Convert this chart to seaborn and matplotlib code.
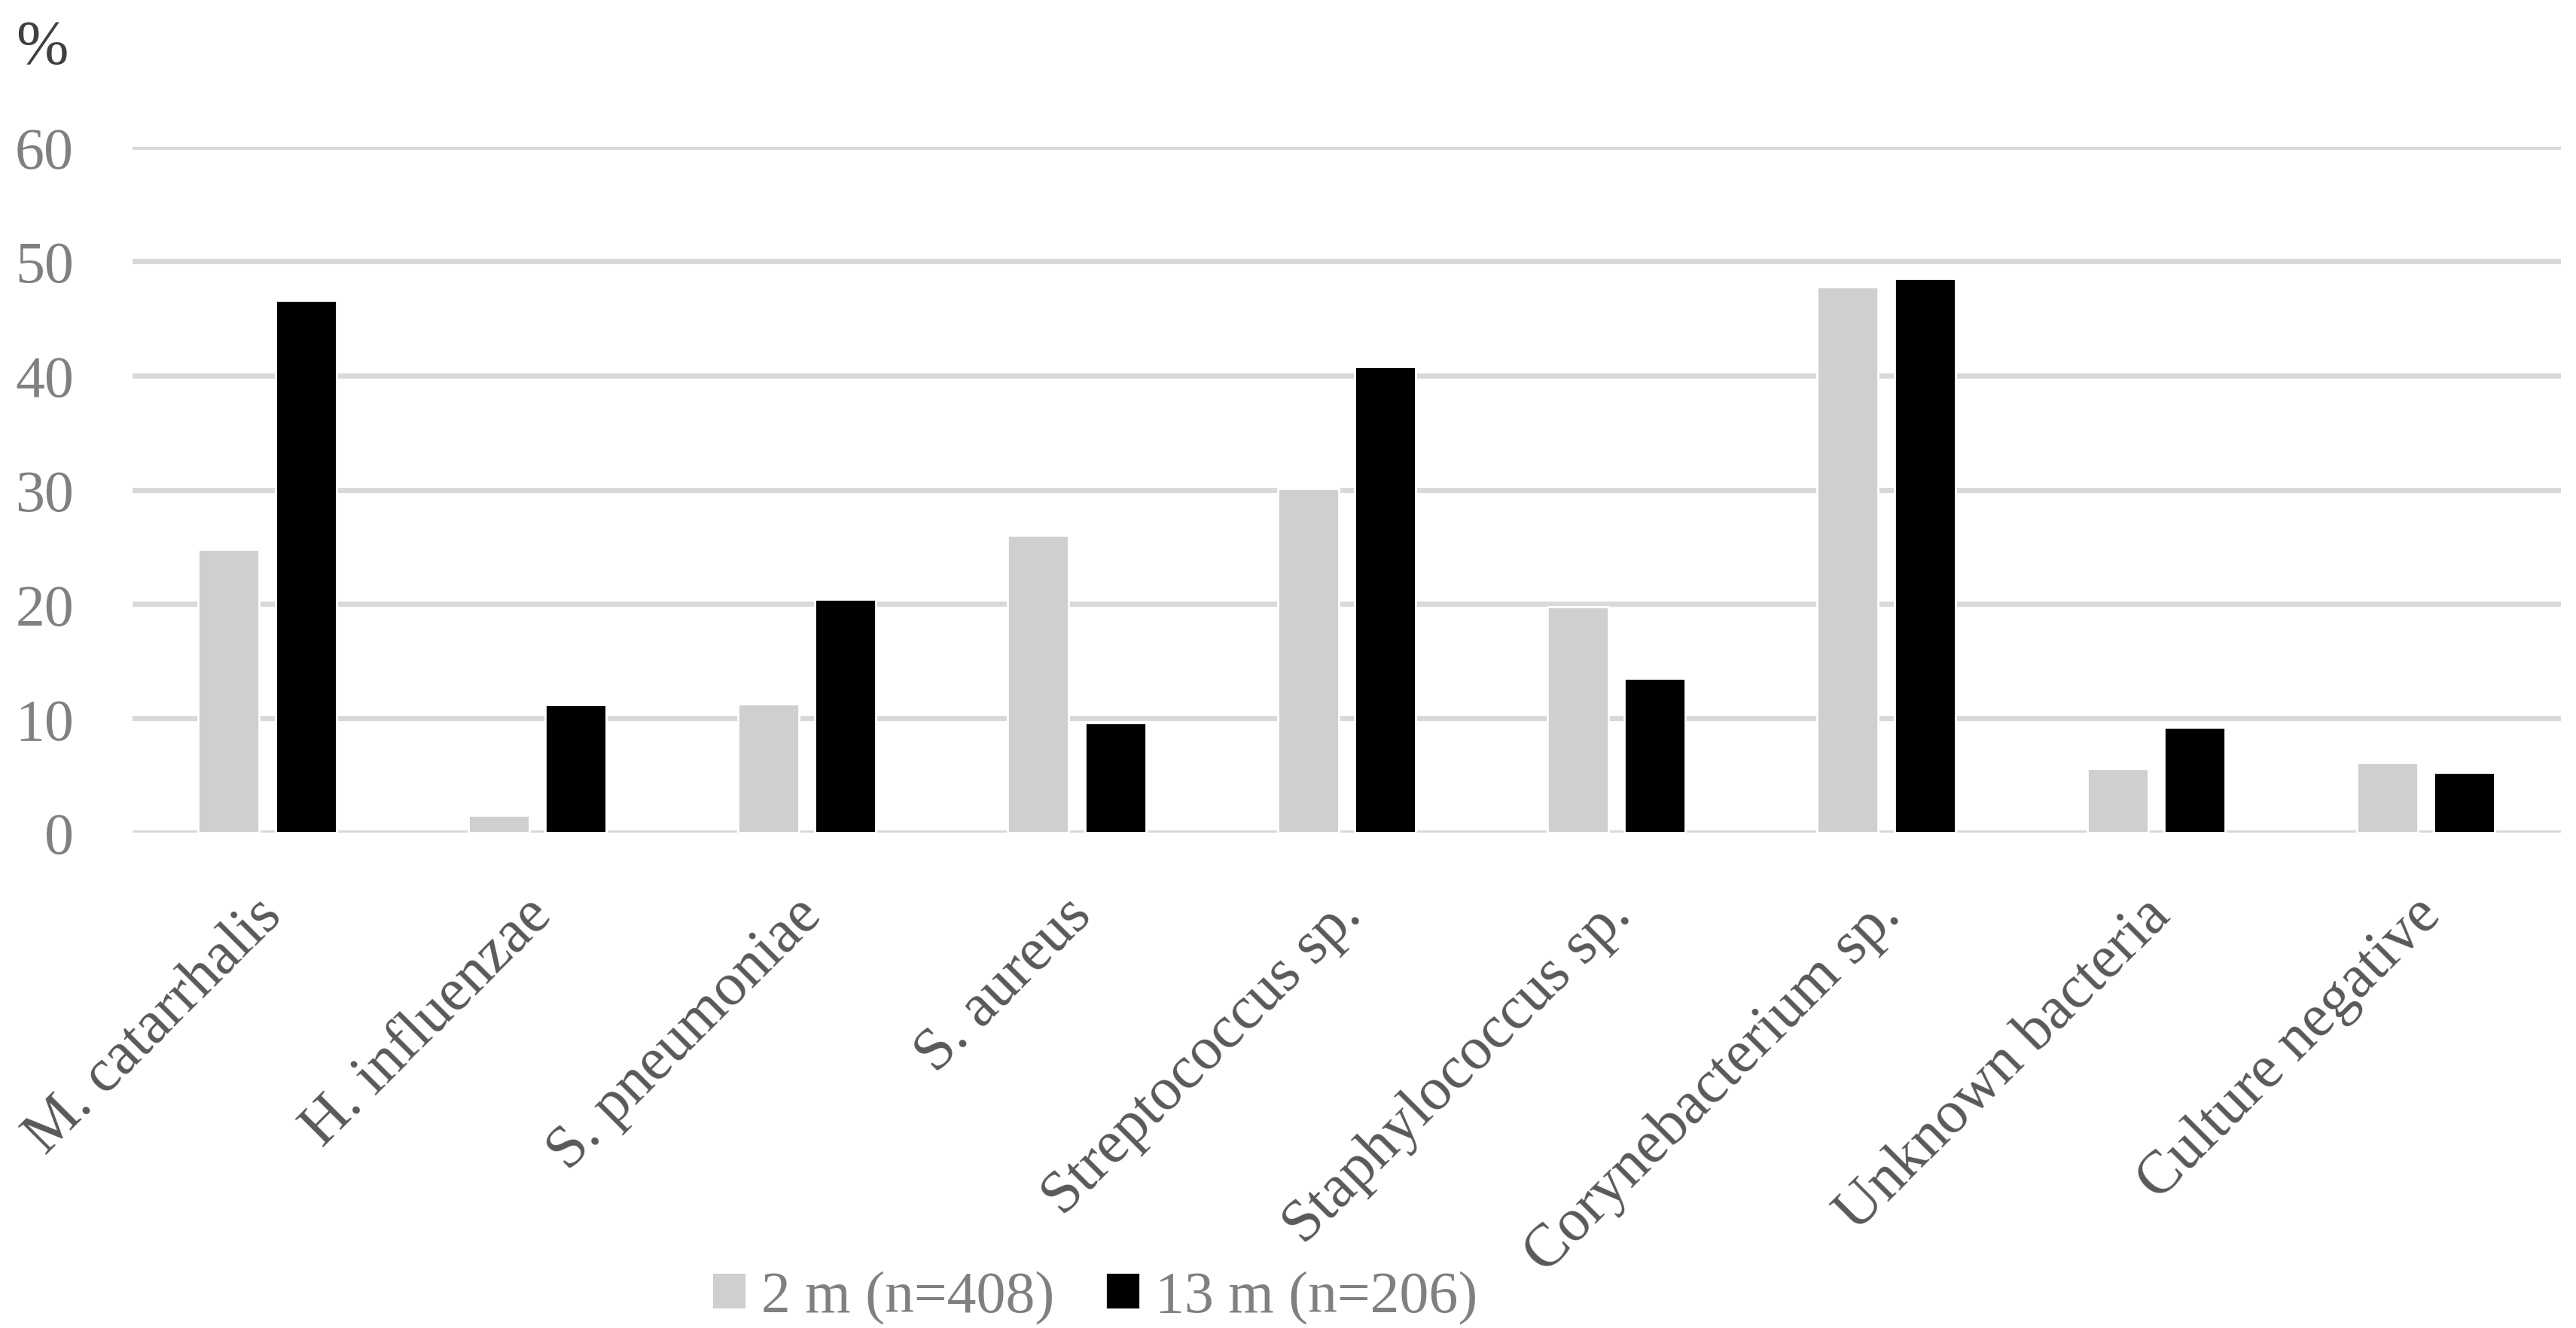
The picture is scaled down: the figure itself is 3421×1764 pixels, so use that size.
import pandas as pd
import matplotlib
matplotlib.use('Agg')
import matplotlib.pyplot as plt
import matplotlib.transforms as mtransforms
import seaborn as sns

# Данные (%)
organisms = ['M. catarrhalis', 'H. influenzae', 'S. pneumoniae', 'S. aureus',
             'Streptococcus sp.', 'Staphylococcus sp.', 'Corynebacterium sp.',
             'Unknown bacteria', 'Culture negative']
groups = ['2 m (n=408)', '13 m (n=206)']
pct_2m = [24.8, 1.5, 11.3, 26.0, 30.1, 19.8, 47.8, 5.6, 6.1]
pct_13m = [46.6, 11.2, 20.4, 9.6, 40.8, 13.5, 48.5, 9.2, 5.3]
y_ticks = [0, 10, 20, 30, 40, 50, 60]

df = pd.DataFrame({
    'organism': organisms * 2,
    'group': [groups[0]] * len(organisms) + [groups[1]] * len(organisms),
    'pct': pct_2m + pct_13m,
})

sns.set_style('white')
plt.rcParams['font.family'] = ['Liberation Serif', 'DejaVu Serif']

fig = plt.figure(figsize=(17.105, 8.825), dpi=200)
# оси: от 176 до 3401 px по x, от 196 до 1107 px по y
ax = fig.add_axes([0.0514, 0.3728, 0.9427, 0.5159])

sns.barplot(data=df, x='organism', y='pct', hue='group',
            palette=['#D0CFCD', '#000000'], width=0.57, gap=0.207,
            saturation=1, errorbar=None, ax=ax, zorder=3)

ax.set_xlim(-0.5, len(organisms) - 0.5)
ax.set_ylim(0, 60)
ax.set_yticks(y_ticks)
ax.set_xlabel('')
ax.set_ylabel('')
ax.yaxis.grid(True, color='#D9D9D9', linewidth=2.5, zorder=0)
ax.set_axisbelow(True)
for s in ax.spines.values():
    s.set_visible(False)

ax.tick_params(axis='y', length=0, pad=28, labelsize=28, labelcolor='#808080')
ax.tick_params(axis='x', length=0, pad=26, labelsize=29, labelcolor='#595959')
shift = mtransforms.ScaledTranslation(-18 / 200, 0, fig.dpi_scale_trans)
for lbl in ax.get_xticklabels():
    lbl.set_rotation(45)
    lbl.set_ha('right')
    lbl.set_rotation_mode('anchor')
    lbl.set_transform(lbl.get_transform() + shift)

fig.text(0.0061, 0.9637, '%', fontsize=30, color='#404040', ha='left', va='center')

ax.get_legend().remove()
handles, labels = ax.get_legend_handles_labels()
leg = fig.legend(handles, labels, loc='center', bbox_to_anchor=(0.425, 0.0232),
                 ncol=2, frameon=False, fontsize=28, handlelength=0.59,
                 handleheight=0.59, handletextpad=0.26, columnspacing=0.87,
                 borderaxespad=0)
for t in leg.get_texts():
    t.set_color('#808080')

fig.savefig('out.png', dpi=200)
